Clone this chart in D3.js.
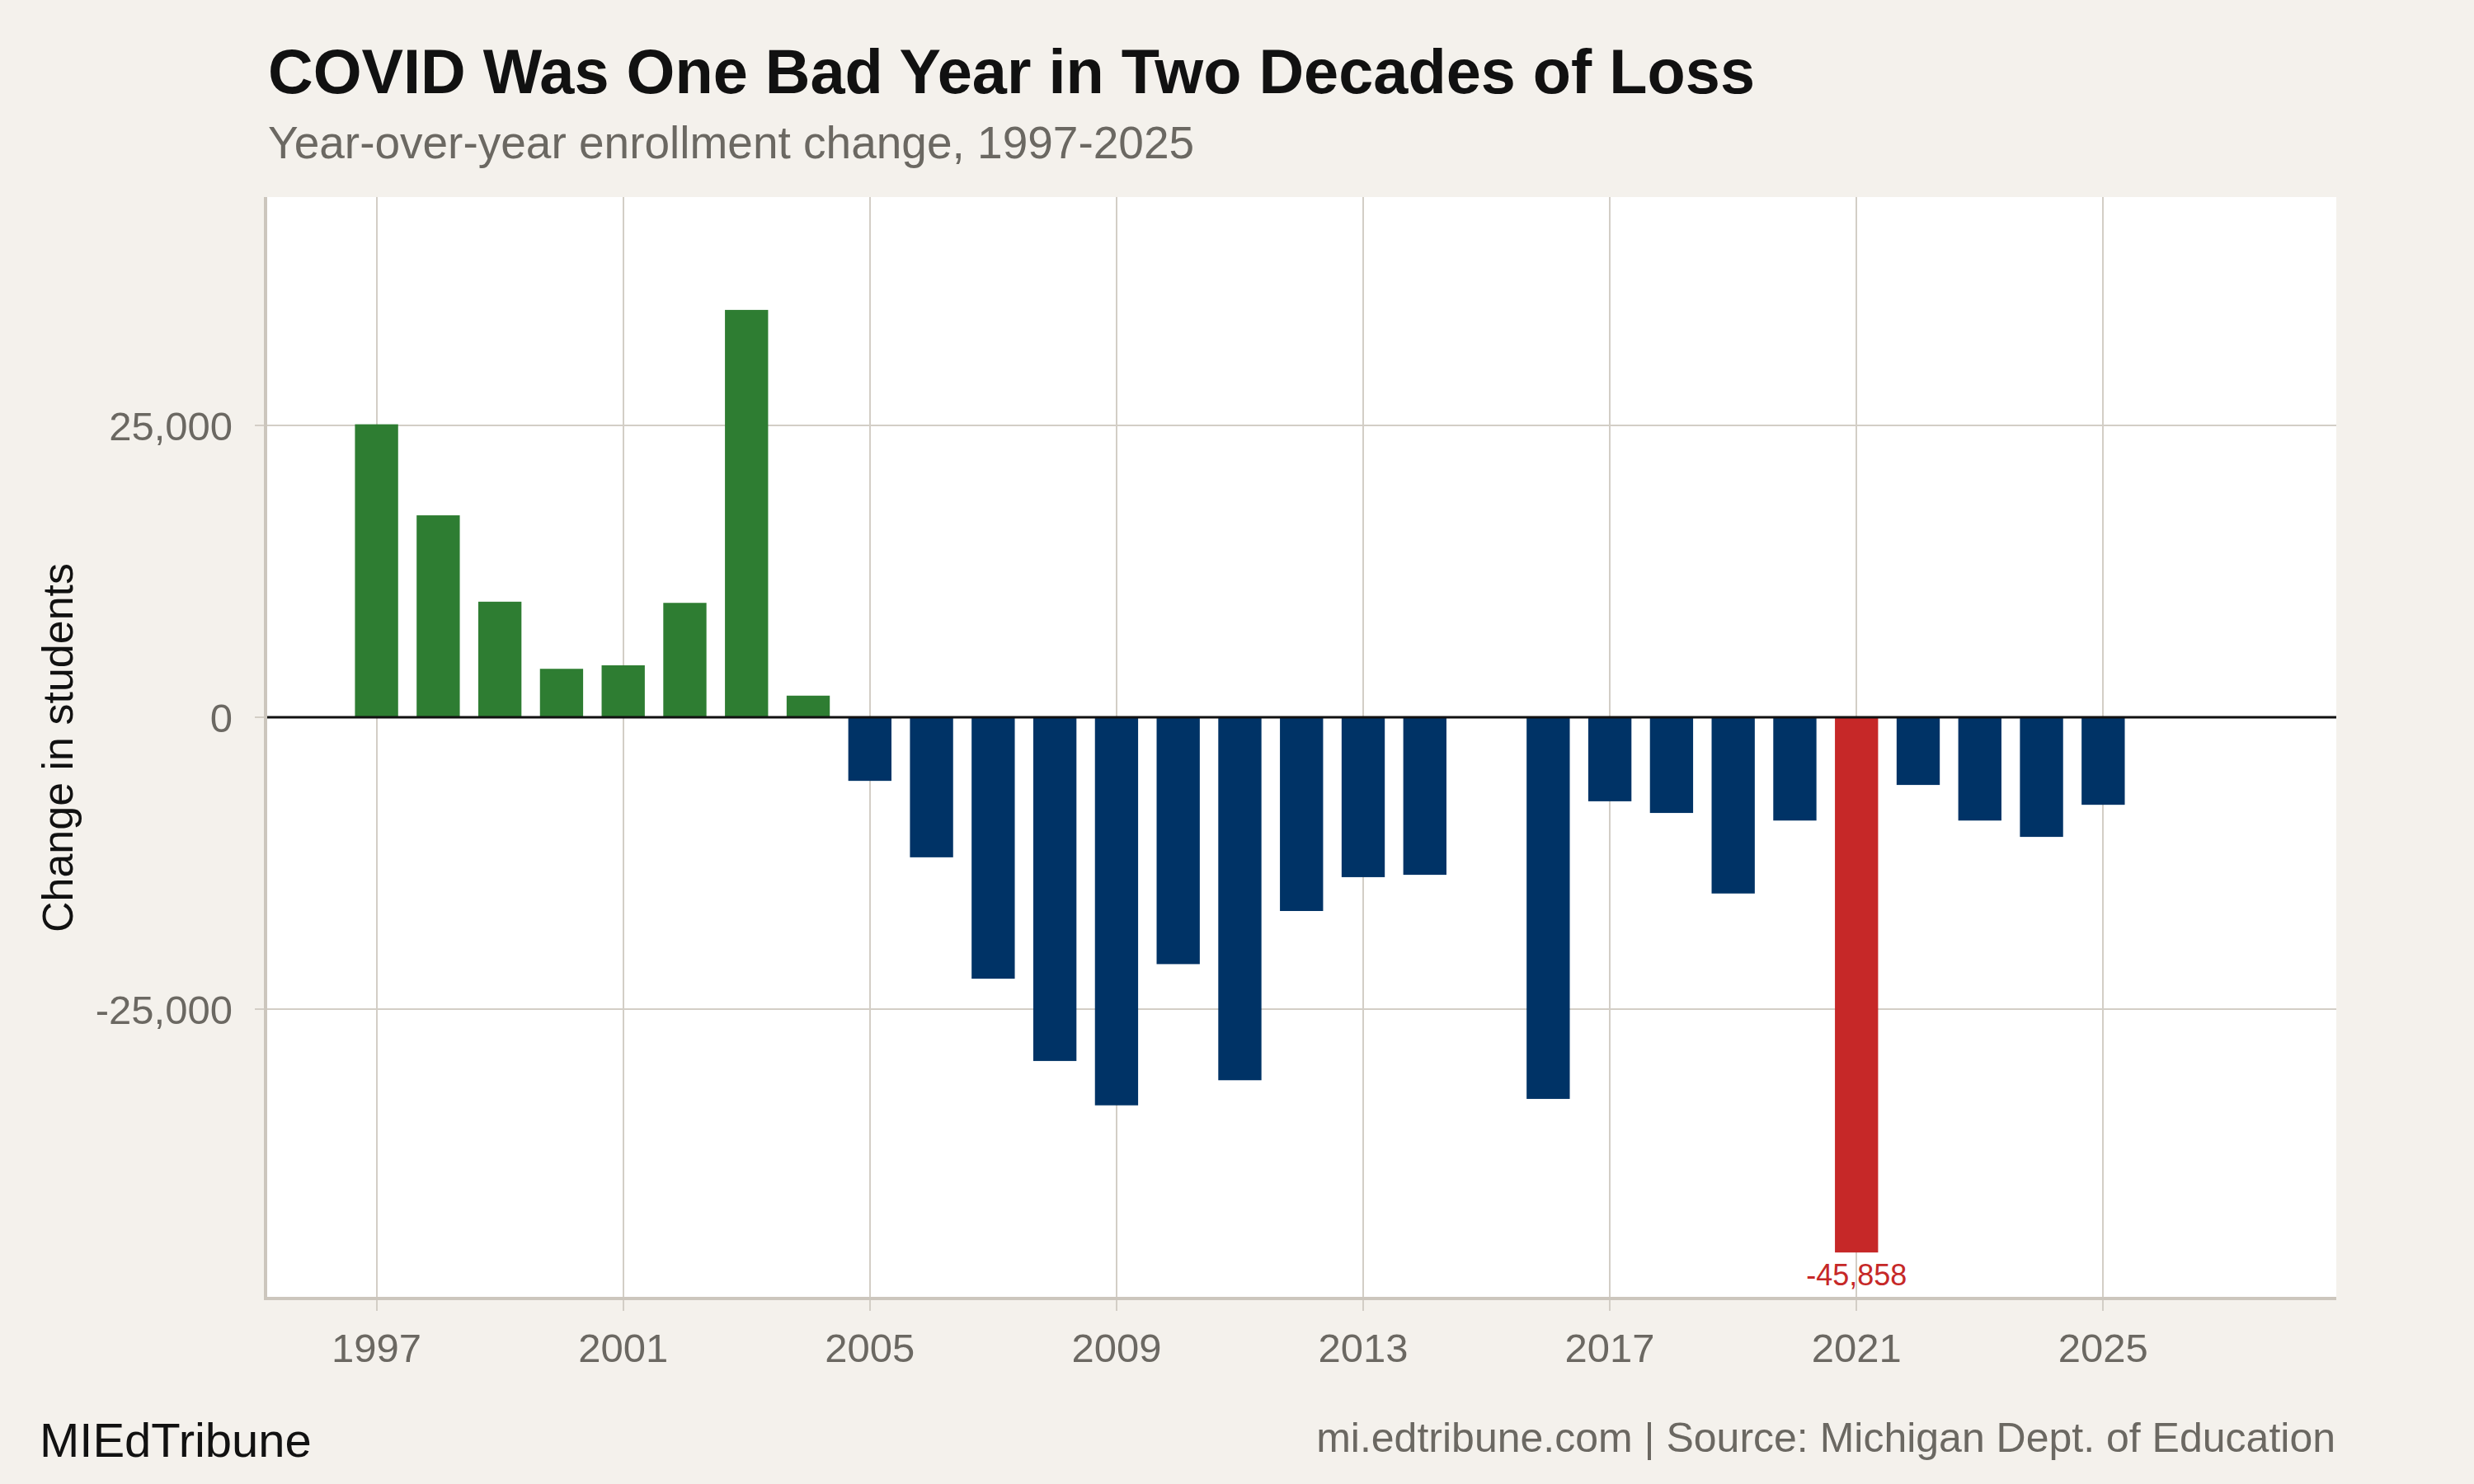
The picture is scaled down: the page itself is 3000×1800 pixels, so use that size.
<html>
  <head>
    <meta charset="utf-8">
    <title>enrollment change</title>
    <style>
      body { margin: 0; background: #F4F1EC; }
      text { font-family: "Liberation Sans", Arial, sans-serif; }
      .grid line { stroke: #D3CEC6; stroke-width: 2; shape-rendering: crispEdges; }
      .tick-label { fill: #6B6862; font-size: 49px; }
    </style>
  </head>
  <body>
    <script src="https://cdn.jsdelivr.net/npm/d3@7"></script>
    <script>
    var width = 3000;
    var height = 1800;

    // year-over-year change in students (no bar for 2015)
    var years = [1997, 1998, 1999, 2000, 2001, 2002, 2003, 2004, 2005, 2006,
                 2007, 2008, 2009, 2010, 2011, 2012, 2013, 2014,
                 2016, 2017, 2018, 2019, 2020, 2021, 2022, 2023, 2024, 2025];
    var changes = [25100, 17300, 9900, 4150, 4450, 9800, 34900, 1850, -5450, -12000,
                   -22400, -29450, -33250, -21150, -31100, -16600, -13700, -13500,
                   -32700, -7200, -8200, -15100, -8850, -45858, -5800, -8850, -10250, -7500];
    var highlightYear = 2021;
    var xTicks = [1997, 2001, 2005, 2009, 2013, 2017, 2021, 2025];
    var yTicks = [-25000, 0, 25000];

    var panel = {left: 322, right: 2833, top: 239, bottom: 1575};

    var svg = d3.select('body')
      .append('svg')
      .attr('width', width).attr('height', height);

    svg.append('rect')
      .attr('width', width).attr('height', height)
      .attr('fill', '#F4F1EC');

    var xScale = d3.scaleLinear()
      .domain([1995.2, 2028.78])
      .range([panel.left, panel.right]);

    var yScale = d3.scaleLinear()
      .domain([-49800, 44570])
      .range([panel.bottom, panel.top]);

    var barWidth = xScale(1997.7) - xScale(1997);

    // white panel
    svg.append('rect')
      .attr('x', panel.left).attr('y', panel.top)
      .attr('width', panel.right - panel.left)
      .attr('height', panel.bottom - panel.top)
      .attr('fill', '#FFFFFF');

    // grid lines
    var grid = svg.append('g').attr('class', 'grid');
    grid.selectAll('.vgrid')
      .data(xTicks)
      .enter()
      .append('line')
      .attr('x1', d => xScale(d)).attr('x2', d => xScale(d))
      .attr('y1', panel.top).attr('y2', panel.bottom + 15);
    grid.selectAll('.hgrid')
      .data(yTicks)
      .enter()
      .append('line')
      .attr('x1', panel.left - 13).attr('x2', panel.right)
      .attr('y1', d => yScale(d)).attr('y2', d => yScale(d));

    // bars
    svg.selectAll('.bar')
      .data(years)
      .enter()
      .append('rect')
      .attr('class', 'bar')
      .attr('x', d => xScale(d) - barWidth / 2)
      .attr('width', barWidth)
      .attr('y', (d, i) => yScale(Math.max(0, changes[i])))
      .attr('height', (d, i) => Math.abs(yScale(changes[i]) - yScale(0)))
      .attr('fill', (d, i) => {
        if (d === highlightYear) return '#C62828';
        return changes[i] >= 0 ? '#2E7D32' : '#003366';
      });

    // zero line
    svg.append('line')
      .attr('x1', panel.left).attr('x2', panel.right)
      .attr('y1', yScale(0)).attr('y2', yScale(0))
      .attr('stroke', '#111').attr('stroke-width', 3);

    // axis lines
    svg.append('line')
      .attr('x1', panel.left).attr('x2', panel.left)
      .attr('y1', panel.top).attr('y2', panel.bottom)
      .attr('stroke', '#CCC6BD').attr('stroke-width', 4);
    svg.append('line')
      .attr('x1', panel.left - 2).attr('x2', panel.right)
      .attr('y1', panel.bottom).attr('y2', panel.bottom)
      .attr('stroke', '#CCC6BD').attr('stroke-width', 4);

    // tick labels (plain hyphen for negatives, as in the original)
    var fmt = d => d3.format(',')(d).replace('\u2212', '-');
    svg.selectAll('.ylab')
      .data(yTicks)
      .enter()
      .append('text')
      .attr('class', 'tick-label')
      .attr('x', 282)
      .attr('y', d => yScale(d))
      .attr('dy', '0.36em')
      .attr('text-anchor', 'end')
      .text(d => fmt(d));

    svg.selectAll('.xlab')
      .data(xTicks)
      .enter()
      .append('text')
      .attr('class', 'tick-label')
      .attr('x', d => xScale(d))
      .attr('y', 1652)
      .attr('text-anchor', 'middle')
      .text(d => d);

    // label for the highlighted bar
    var hi = years.indexOf(highlightYear);
    svg.append('text')
      .attr('x', xScale(highlightYear))
      .attr('y', yScale(changes[hi]) + 40)
      .attr('text-anchor', 'middle')
      .attr('fill', '#C62828')
      .attr('font-size', 36)
      .text(fmt(changes[hi]));

    // y axis title
    svg.append('text')
      .attr('transform', 'translate(88,' + (panel.top + panel.bottom) / 2 + ') rotate(-90)')
      .attr('text-anchor', 'middle')
      .attr('fill', '#111')
      .attr('font-size', 52)
      .text('Change in students');

    // title, subtitle, captions
    svg.append('text')
      .attr('x', 325).attr('y', 113)
      .attr('fill', '#111')
      .attr('font-size', 75.7)
      .attr('font-weight', 'bold')
      .text('COVID Was One Bad Year in Two Decades of Loss');

    svg.append('text')
      .attr('x', 325).attr('y', 192)
      .attr('fill', '#6B6862')
      .attr('font-size', 55)
      .text('Year-over-year enrollment change, 1997-2025');

    svg.append('text')
      .attr('x', 48).attr('y', 1767)
      .attr('fill', '#111')
      .attr('font-size', 58)
      .text('MIEdTribune');

    svg.append('text')
      .attr('x', 2832).attr('y', 1761)
      .attr('text-anchor', 'end')
      .attr('fill', '#6B6862')
      .attr('font-size', 50)
      .text('mi.edtribune.com | Source: Michigan Dept. of Education');
    </script>
  </body>
</html>
